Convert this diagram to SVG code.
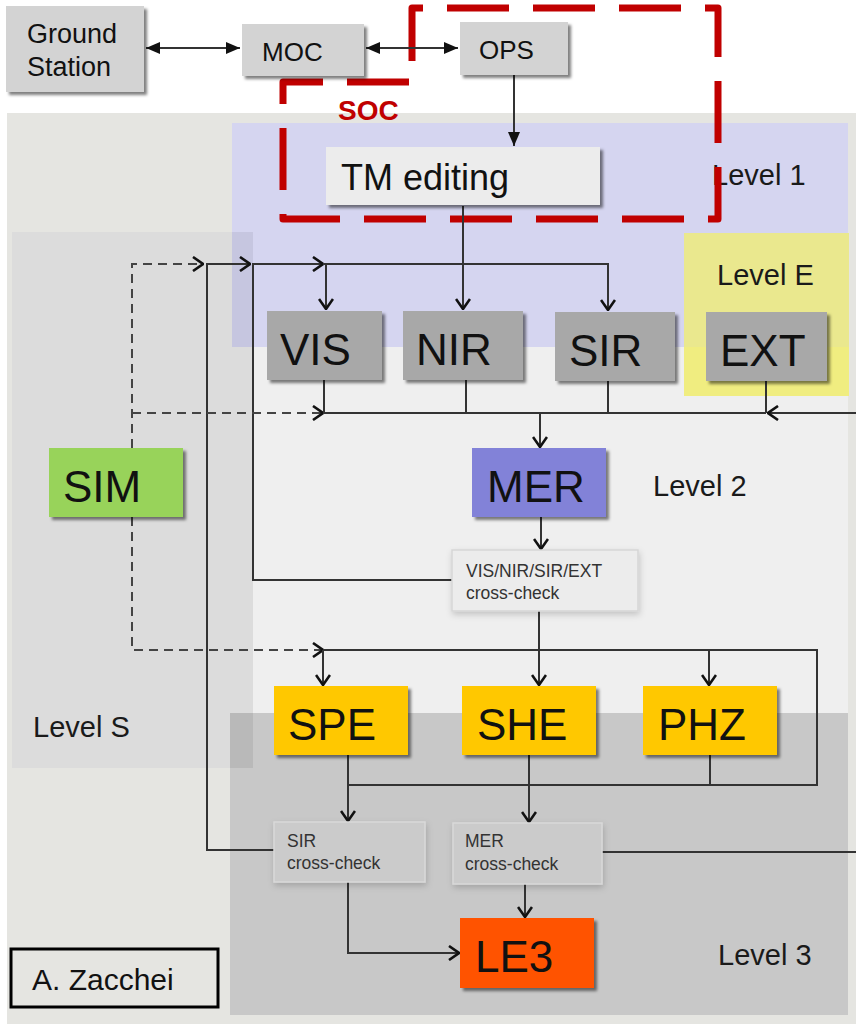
<svg xmlns="http://www.w3.org/2000/svg" width="856" height="1024" viewBox="0 0 856 1024">
<defs>
<style>
text{font-family:"Liberation Sans",Arial,sans-serif;fill:#111}
.big{font-size:44px}
.lvl{font-size:29px;fill:#1a1a1a}
.cc{font-size:17.5px;fill:#333}
.box{filter:url(#sh)}
.ln{fill:none;stroke:#333;stroke-width:2}
.dl{fill:none;stroke:#444;stroke-width:2;stroke-dasharray:9 6}
.ar{marker-end:url(#ah)}
</style>
<filter id="sh" x="-10%" y="-10%" width="125%" height="135%">
<feDropShadow dx="3" dy="3" stdDeviation="1.6" flood-color="#000" flood-opacity="0.5"/>
</filter>
<filter id="sh2" x="-10%" y="-10%" width="125%" height="135%">
<feDropShadow dx="1" dy="3" stdDeviation="3" flood-color="#000" flood-opacity="0.18"/>
</filter>
<marker id="ah" viewBox="0 0 12 16" refX="11" refY="8" markerWidth="12" markerHeight="16" orient="auto" markerUnits="userSpaceOnUse">
<path d="M1,1 L11,8 L1,15" fill="none" stroke="#111" stroke-width="2.6"/>
</marker>
<marker id="fa" viewBox="0 0 14 12" refX="14" refY="6" markerWidth="14" markerHeight="12" orient="auto-start-reverse" markerUnits="userSpaceOnUse">
<path d="M0,0 L14,6 L0,12 z" fill="#111"/>
</marker>
</defs>

<!-- backgrounds -->
<rect x="0" y="0" width="856" height="1024" fill="#ffffff"/>
<rect x="7" y="113" width="849" height="911" fill="#e5e5e1"/>
<g id="panels">
<rect x="232" y="123" width="616" height="224" fill="#d5d5f0"/>
<rect x="232" y="347" width="616" height="366" fill="#efefef"/>
<rect x="230" y="713" width="618" height="302" fill="#c8c8c8"/>
<rect x="684" y="233" width="165" height="114" fill="#eae88e"/>
<rect x="684" y="347" width="165" height="49" fill="#f0ed80"/>
<rect x="12" y="232" width="241" height="536" fill="#dcdcdc"/>
<rect x="232" y="232" width="21" height="115" fill="#c6c6e0"/>
<rect x="230" y="713" width="23" height="55" fill="#b9b9b9"/>
</g>

<g id="level-labels">
<text class="lvl" x="712" y="185">Level 1</text>
<text class="lvl" x="717" y="285">Level E</text>
<text class="lvl" x="653" y="496">Level 2</text>
<text class="lvl" x="33" y="737">Level S</text>
<text class="lvl" x="718" y="965">Level 3</text>
</g>

<!-- SOC boundary -->
<g id="soc">
<path d="M412,8 H718 V219 H283 V82 H412 Z" fill="none" stroke="#c00000" stroke-width="7" stroke-dasharray="62 24" stroke-dashoffset="51" stroke-linejoin="round"/>
<text x="338" y="120" font-size="28" font-weight="bold" style="fill:#c00000">SOC</text>
</g>

<!-- connectors -->
<g id="connectors">
<path class="ln" d="M146,48 H240" marker-start="url(#fa)" marker-end="url(#fa)"/>
<path class="ln" d="M366,48 H458" marker-start="url(#fa)" marker-end="url(#fa)"/>
<path class="ln" d="M514,75 V146" marker-end="url(#fa)"/>
<path class="ln ar" d="M463,206 V309"/>
<path class="ln ar" d="M452,580 H253 V264 H323"/>
<path class="ln ar" d="M323,264 H608 V310"/>
<path class="ln ar" d="M326,264 V309"/>
<path class="ln ar" d="M274,850 H207 V264 H250"/>
<path class="dl ar" d="M132,448 V264 H203"/>
<path class="dl ar" d="M132,413 H323"/>
<path class="dl ar" d="M132,517 V650 H323"/>
<path class="ln" d="M324,380 V413 H766"/>
<path class="ln" d="M466,380 V413"/>
<path class="ln" d="M608,381 V413"/>
<path class="ln" d="M766,381 V413"/>
<path class="ln ar" d="M856,413 H768"/>
<path class="ln ar" d="M540,413 V447"/>
<path class="ln ar" d="M541,517 V549"/>
<path class="ln ar" d="M539,611 V685"/>
<path class="ln" d="M323,650 H817 V785 H348"/>
<path class="ln ar" d="M323,650 V685"/>
<path class="ln ar" d="M709,650 V685"/>
<path class="ln ar" d="M348,755 V821"/>
<path class="ln ar" d="M529,755 V822"/>
<path class="ln" d="M710,755 V785"/>
<path class="ln ar" d="M348,882 V953 H459"/>
<path class="ln ar" d="M525,884 V917"/>
<path class="ln" d="M602,852 H856"/>
</g>

<!-- nodes -->
<g id="ground-station"><rect class="box" x="6" y="6" width="138" height="86" fill="#d3d3d3"/>
<text x="27" y="43" font-size="27">Ground</text><text x="27" y="76" font-size="27">Station</text></g>
<g id="moc"><rect class="box" x="242" y="24" width="122" height="52" fill="#d3d3d3"/><text x="262" y="61" font-size="26">MOC</text></g>
<g id="ops"><rect class="box" x="460" y="22" width="108" height="53" fill="#d3d3d3"/><text x="479" y="59" font-size="26">OPS</text></g>
<g id="tm-editing"><rect class="box" x="326" y="147" width="274" height="58" fill="#ececec"/><text x="341" y="190" font-size="36">TM editing</text></g>
<g id="vis"><rect class="box" x="267" y="311" width="115" height="69" fill="#a8a8a8"/><text class="big" x="280" y="365">VIS</text></g>
<g id="nir"><rect class="box" x="403" y="311" width="120" height="69" fill="#a8a8a8"/><text class="big" x="416" y="365">NIR</text></g>
<g id="sir"><rect class="box" x="555" y="312" width="120" height="69" fill="#a8a8a8"/><text class="big" x="569" y="366">SIR</text></g>
<g id="ext"><rect class="box" x="706" y="312" width="121" height="69" fill="#a8a8a8"/><text class="big" x="720" y="366">EXT</text></g>
<g id="mer"><rect class="box" x="472" y="448" width="134" height="69" fill="#8282d8"/><text class="big" x="487" y="502">MER</text></g>
<g id="sim"><rect class="box" x="49" y="448" width="134" height="69" fill="#98d35a"/><text class="big" x="63" y="502">SIM</text></g>
<g id="vnse-crosscheck"><rect x="452" y="550" width="186" height="61" fill="#ececec" stroke="#d6d6d6" stroke-width="1.5" filter="url(#sh2)"/>
<text class="cc" x="466" y="577">VIS/NIR/SIR/EXT</text><text class="cc" x="466" y="599">cross-check</text></g>
<g id="spe"><rect class="box" x="274" y="686" width="134" height="69" fill="#ffc800"/><text class="big" x="288" y="740">SPE</text></g>
<g id="she"><rect class="box" x="462" y="686" width="134" height="69" fill="#ffc800"/><text class="big" x="477" y="740">SHE</text></g>
<g id="phz"><rect class="box" x="643" y="686" width="134" height="69" fill="#ffc800"/><text class="big" x="658" y="740">PHZ</text></g>
<g id="sir-crosscheck"><rect x="274" y="822" width="151" height="60" fill="#cbcbcb" stroke="#d9d9d9" stroke-width="1.5" filter="url(#sh2)"/>
<text class="cc" x="287" y="847">SIR</text><text class="cc" x="287" y="869">cross-check</text></g>
<g id="mer-crosscheck"><rect x="453" y="823" width="149" height="61" fill="#cbcbcb" stroke="#d9d9d9" stroke-width="1.5" filter="url(#sh2)"/>
<text class="cc" x="465" y="847">MER</text><text class="cc" x="465" y="870">cross-check</text></g>
<g id="le3"><rect class="box" x="460" y="918" width="134" height="70" fill="#ff5200"/><text class="big" x="475" y="972">LE3</text></g>

<g id="credit"><rect x="11" y="949" width="207" height="58" fill="none" stroke="#000" stroke-width="3"/>
<text x="32" y="990" font-size="30">A. Zacchei</text></g>
</svg>
